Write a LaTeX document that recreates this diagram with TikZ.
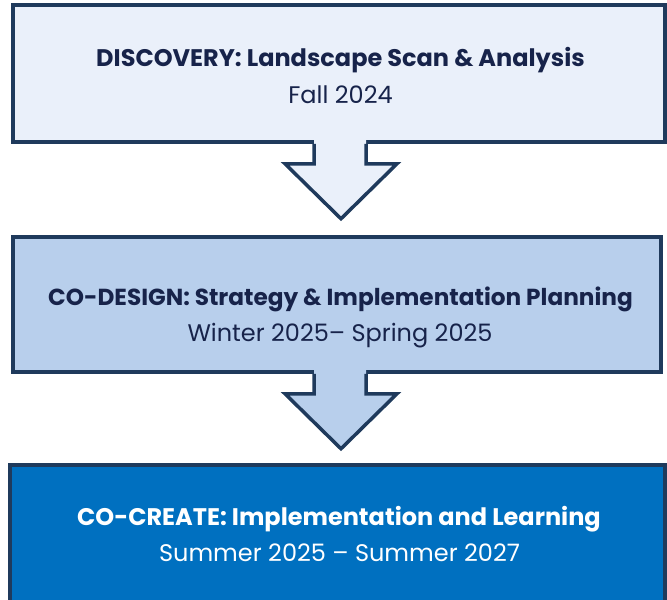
\documentclass[tikz,border=0pt]{standalone}
\usepackage{fontspec}
\setmainfont{Poppins}
\usetikzlibrary{calc}
\definecolor{navy}{HTML}{1F3A5C}
\definecolor{ink}{HTML}{17234A}
\definecolor{fillA}{HTML}{EAF0FA}
\definecolor{fillB}{HTML}{B8CFEC}
\definecolor{fillC}{HTML}{0070C0}
\tikzset{
  stagebox/.style={draw=navy, line width=3.5pt, inner sep=0pt},
  titletext/.style={anchor=base, inner sep=0pt, font=\fontsize{24}{28}\selectfont\bfseries},
  datetext/.style={anchor=base, inner sep=0pt, font=\fontsize{24}{28}\selectfont},
  flowarrow/.style={draw=navy, line width=3.5pt, line join=miter},
}
\begin{document}
\begin{tikzpicture}[x=1pt,y=-1pt]
\useasboundingbox (0,0) rectangle (667,600);
\node[stagebox, fill=fillA, minimum width=652pt, minimum height=137pt] (b1) at (339,73.5) {};
\node[stagebox, fill=fillB, minimum width=648pt, minimum height=135pt] (b2) at (337,304.5) {};
\node[stagebox, fill=fillC, minimum width=655pt, minimum height=150pt] (b3) at (337.5,540) {};
% arrow 1
\fill[fillA] ($(b1.south)+(-25,-6)$) -- ($(b1.south)+(-25,20)$) -- ($(b1.south)+(-54,20)$) -- ($(b1.south)+(2,75)$) -- ($(b1.south)+(58,20)$) -- ($(b1.south)+(27,20)$) -- ($(b1.south)+(27,-6)$) -- cycle;
\draw[flowarrow] ($(b1.south)+(-25,0)$) -- ($(b1.south)+(-25,20)$) -- ($(b1.south)+(-54,20)$) -- ($(b1.south)+(2,75)$) -- ($(b1.south)+(58,20)$) -- ($(b1.south)+(27,20)$) -- ($(b1.south)+(27,0)$);
% arrow 2
\fill[fillB] ($(b2.south)+(-23,-6)$) -- ($(b2.south)+(-23,20)$) -- ($(b2.south)+(-52,20)$) -- ($(b2.south)+(4,75)$) -- ($(b2.south)+(60,20)$) -- ($(b2.south)+(29,20)$) -- ($(b2.south)+(29,-6)$) -- cycle;
\draw[flowarrow] ($(b2.south)+(-23,0)$) -- ($(b2.south)+(-23,20)$) -- ($(b2.south)+(-52,20)$) -- ($(b2.south)+(4,75)$) -- ($(b2.south)+(60,20)$) -- ($(b2.south)+(29,20)$) -- ($(b2.south)+(29,0)$);
% texts
\node[titletext, text=ink] (t1) at (340.5,66) {DISCOVERY: Landscape Scan \& Analysis};
\node[datetext, text=ink] (d1) at (340.5,103) {Fall 2024};
\node[titletext, text=ink, font=\fontsize{23.2}{28}\selectfont\bfseries] (t2) at (340.5,305) {CO-DESIGN: Strategy \& Implementation Planning};
\node[datetext, text=ink] (d2) at (340,341) {Winter 2025– Spring 2025};
\node[titletext, text=white] (t3) at (339,525) {CO-CREATE: Implementation and Learning};
\node[datetext, text=white] (d3) at (339.5,561) {Summer 2025 – Summer 2027};
\end{tikzpicture}
\end{document}
